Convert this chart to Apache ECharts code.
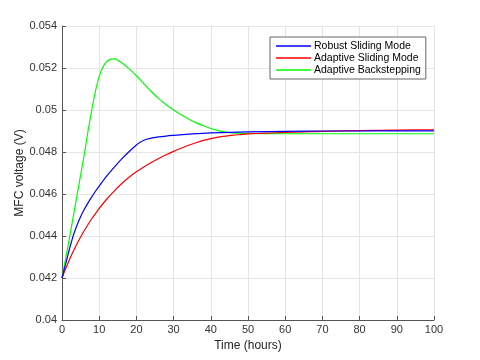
<!DOCTYPE html>
<html><head><meta charset="utf-8">
<script src="https://cdn.jsdelivr.net/npm/echarts@6/dist/echarts.min.js"></script>
<style>html,body{margin:0;padding:0;background:#fff}#c{width:480px;height:360px}</style>
</head><body><div id="c"></div>
<script>
const seriesNames = ['Robust Sliding Mode', 'Adaptive Sliding Mode', 'Adaptive Backstepping'];
const robustX = [0,1,2,3,4,5,6,7,8,9,10,12,14,16,18,20,21,22,23,24,26,28,30,35,40,50,60,70,80,90,100];
const robustY = [0.04200,0.04268,0.04338,0.04400,0.04450,0.04492,0.04527,0.04558,0.04586,0.04613,0.04638,0.04685,0.04727,0.04766,0.04801,0.04833,0.04846,0.04856,0.04862,0.04866,0.04872,0.04876,0.04879,0.04886,0.04891,0.04896,0.04898,0.04900,0.04900,0.04901,0.04901];
const adaptiveSMX = [0,1,2,3,4,5,6,7,8,9,10,12,14,16,18,20,22,24,26,28,30,32,34,36,38,40,42,44,46,48,50,55,60,70,80,90,100];
const adaptiveSMY = [0.04200,0.04245,0.04287,0.04326,0.04362,0.04395,0.04426,0.04455,0.04482,0.04507,0.04531,0.04575,0.04614,0.04649,0.04680,0.04706,0.04729,0.04750,0.04769,0.04787,0.04803,0.04818,0.04832,0.04844,0.04855,0.04864,0.04871,0.04876,0.04880,0.04883,0.04886,0.04890,0.04893,0.04898,0.04902,0.04904,0.04906];
const backstepX = [0,1,2,3,4,5,6,7,8,9,10,11,12,13,14,15,16,17,18,20,22,24,26,28,30,32,34,36,38,40,42,44,46,48,50,60,70,80,90,100];
const backstepY = [0.04200,0.04295,0.04390,0.04490,0.04590,0.04690,0.04790,0.04900,0.05000,0.05090,0.05160,0.05205,0.05230,0.05241,0.05243,0.05237,0.05225,0.05212,0.05197,0.05163,0.05125,0.05088,0.05054,0.05025,0.05000,0.04977,0.04957,0.04940,0.04925,0.04912,0.04902,0.04895,0.04891,0.04889,0.04888,0.04887,0.04887,0.04887,0.04887,0.04887];
const xTicks = {min: 0, max: 100, interval: 10};
const yTicks = {min: 0.040, max: 0.054, interval: 0.002};
const colors = ['#0000ff', '#ff0000', '#00ff00'];

const pairs = (xs, ys) => xs.map((x, i) => [x, ys[i]]);
const font = 'Liberation Sans, Arial, Helvetica, sans-serif';
const chart = echarts.init(document.getElementById('c'));
chart.setOption({
  animation: false,
  backgroundColor: '#fff',
  grid: {left: 62, right: 46, top: 26, bottom: 40, containLabel: false},
  legend: {
    orient: 'vertical', left: 270, top: 37,
    data: seriesNames,
    icon: 'rect', itemWidth: 35, itemHeight: 1.5, itemGap: 0,
    padding: [3, 5, 3, 6],
    borderColor: '#666', borderWidth: 1, backgroundColor: '#fff',
    textStyle: {fontFamily: font, fontSize: 10.5, lineHeight: 12, color: '#000', padding: [0, 0, 0, -2]}
  },
  xAxis: {
    type: 'value', min: xTicks.min, max: xTicks.max, interval: xTicks.interval,
    name: 'Time (hours)', nameLocation: 'middle', nameGap: 20,
    nameTextStyle: {fontFamily: font, fontSize: 12, color: '#262626'},
    axisLine: {lineStyle: {color: '#555', width: 1}},
    axisTick: {inside: true, length: 4, lineStyle: {color: '#555'}},
    axisLabel: {fontFamily: font, fontSize: 11, color: '#333', margin: 4},
    splitLine: {show: true, lineStyle: {color: '#e5e5e5', width: 1}}
  },
  yAxis: {
    type: 'value', min: yTicks.min, max: yTicks.max, interval: yTicks.interval,
    name: 'MFC voltage (V)', nameLocation: 'middle', nameGap: 36, nameMoveOverlap: false,
    nameTextStyle: {fontFamily: font, fontSize: 12, color: '#262626'},
    axisLine: {show: true, lineStyle: {color: '#555', width: 1}},
    axisTick: {show: true, inside: true, length: 4, lineStyle: {color: '#555'}},
    axisLabel: {fontFamily: font, fontSize: 11, color: '#333', margin: 5,
      formatter: v => String(parseFloat(v.toFixed(3)))},
    splitLine: {show: true, lineStyle: {color: '#e5e5e5', width: 1}}
  },
  series: [
    {name: seriesNames[0], type: 'line', data: pairs(robustX, robustY), color: colors[0]},
    {name: seriesNames[1], type: 'line', data: pairs(adaptiveSMX, adaptiveSMY), color: colors[1]},
    {name: seriesNames[2], type: 'line', data: pairs(backstepX, backstepY), color: colors[2]}
  ].map(s => Object.assign(s, {showSymbol: false, smooth: 0.25, lineStyle: {width: 1.2}, z: 3 - seriesNames.indexOf(s.name)}))
});
</script></body></html>
